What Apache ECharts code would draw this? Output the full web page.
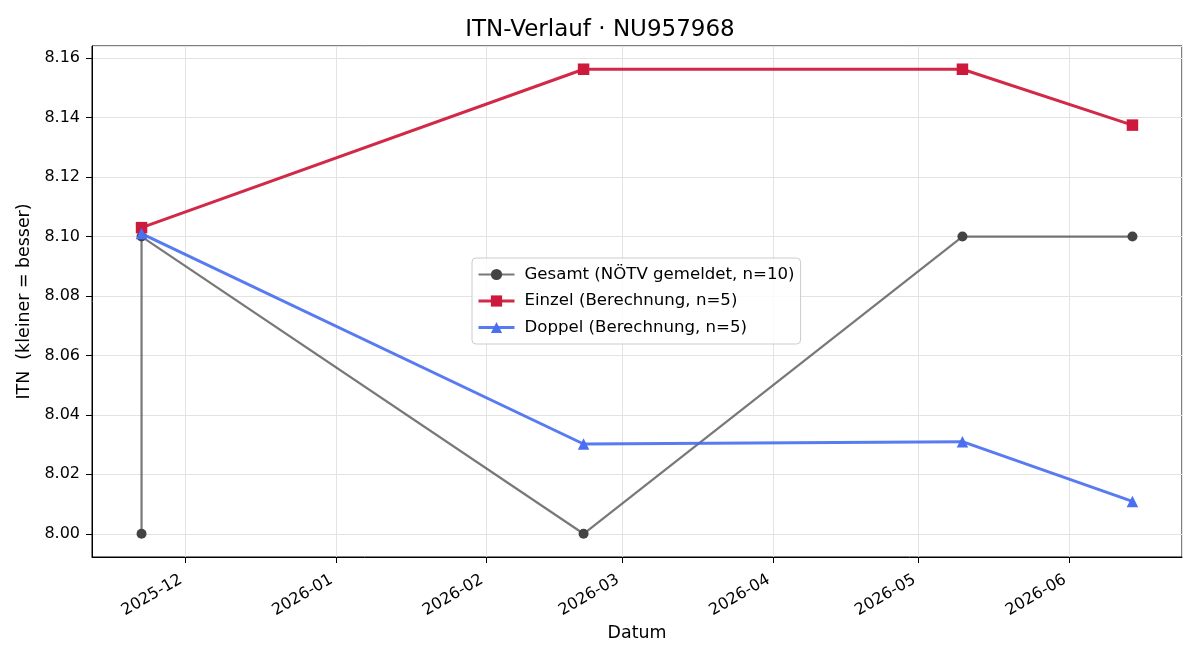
<!DOCTYPE html>
<html>
<head>
<meta charset="utf-8">
<script src="https://cdn.jsdelivr.net/npm/echarts@6/dist/echarts.min.js"></script>
<style>html,body{margin:0;padding:0;background:#fff}#c{width:1200px;height:660px}</style>
</head>
<body>
<div id="c"></div>
<script>
const seriesNames = ['Gesamt (NÖTV gemeldet, n=10)', 'Einzel (Berechnung, n=5)', 'Doppel (Berechnung, n=5)'];
const gesamtDates = ['2025-11-22', '2025-11-22', '2026-02-21', '2026-05-10', '2026-06-14'];
const gesamtValues = [8.00, 8.10, 8.00, 8.10, 8.10];
const einzelDates = ['2025-11-22', '2026-02-21', '2026-05-10', '2026-06-14'];
const einzelValues = [8.103, 8.1563, 8.1563, 8.1375];
const doppelDates = ['2025-11-22', '2026-02-21', '2026-05-10', '2026-06-14'];
const doppelValues = [8.101, 8.0302, 8.031, 8.0109];

const toPairs = (d, v) => d.map((x, i) => [x, v[i]]);
const allT = [].concat(gesamtDates, einzelDates, doppelDates).map(d => new Date(d + 'T00:00:00Z').getTime());
const allV = [].concat(gesamtValues, einzelValues, doppelValues);
const tMin = Math.min(...allT), tMax = Math.max(...allT);
const vMin = Math.min(...allV), vMax = Math.max(...allV);
const tPad = (tMax - tMin) * 0.05, vPad = (vMax - vMin) * 0.05;

const chart = echarts.init(document.getElementById('c'));
const font = 'DejaVu Sans';
chart.setOption({
  animation: false,
  textStyle: { fontFamily: font },
  title: {
    text: 'ITN-Verlauf · NU957968', left: 'center', top: 14,
    textStyle: { fontFamily: font, fontSize: 23, fontWeight: 'normal', color: '#000' }
  },
  grid: {
    left: 92, right: 18, top: 46, bottom: 103, show: true,
    borderColor: '#000', borderWidth: 1, backgroundColor: 'transparent'
  },
  legend: {
    data: [
      { name: seriesNames[0], lineStyle: { width: 2.2 } },
      { name: seriesNames[1], lineStyle: { width: 3 } },
      { name: seriesNames[2], lineStyle: { width: 3 } }
    ],
    orient: 'vertical', left: 472, top: 258,
    backgroundColor: 'rgba(255,255,255,0.8)', borderColor: '#cccccc', borderWidth: 1, borderRadius: 4,
    padding: [8, 6, 8, 5], itemWidth: 36, itemHeight: 14, itemGap: 9.5,
    textStyle: { fontFamily: font, fontSize: 16.6, color: '#000', padding: [0, 0, 0, 5] }
  },
  xAxis: {
    type: 'time', min: tMin - tPad, max: tMax + tPad, splitNumber: 7,
    name: 'Datum', nameLocation: 'middle', nameGap: 67,
    nameTextStyle: { fontFamily: font, fontSize: 17.4, color: '#000' },
    axisLine: { show: true, lineStyle: { color: '#000', width: 1 } },
    axisTick: { show: true, length: 6, inside: false, lineStyle: { color: '#000' } },
    axisLabel: {
      rotate: 30, fontFamily: font, fontSize: 16, color: '#000', margin: 19,
      padding: [0, 5, 0, 0],
      showMinLabel: false, showMaxLabel: false,
      formatter: v => { const d = new Date(v); return d.getUTCFullYear() + '-' + String(d.getUTCMonth() + 1).padStart(2, '0'); }
    },
    splitLine: { show: true, lineStyle: { color: '#e3e3e3', width: 1 } }
  },
  yAxis: {
    type: 'value', min: vMin - vPad, max: vMax + vPad, scale: true,
    splitNumber: 8, minInterval: 0.02, maxInterval: 0.02,
    name: 'ITN  (kleiner = besser)', nameLocation: 'middle', nameGap: 58,
    nameTextStyle: { fontFamily: font, fontSize: 17.4, color: '#000' },
    axisLine: { show: true, lineStyle: { color: '#000', width: 1 } },
    axisTick: { show: true, length: 6, lineStyle: { color: '#000' } },
    axisLabel: {
      fontFamily: font, fontSize: 16, color: '#000', margin: 12,
      showMinLabel: false, showMaxLabel: false,
      formatter: v => v.toFixed(2)
    },
    splitLine: { show: true, lineStyle: { color: '#e3e3e3', width: 1 } }
  },
  series: [
    {
      name: seriesNames[0], type: 'line', data: toPairs(gesamtDates, gesamtValues),
      symbol: 'circle', symbolSize: 10, showAllSymbol: true,
      lineStyle: { color: 'rgba(68,68,68,0.72)', width: 2.2 },
      itemStyle: { color: '#444444', borderWidth: 0 }, z: 2
    },
    {
      name: seriesNames[1], type: 'line', data: toPairs(einzelDates, einzelValues),
      symbol: 'rect', symbolSize: 11.5, showAllSymbol: true,
      lineStyle: { color: 'rgba(205,23,55,0.92)', width: 3 },
      itemStyle: { color: '#cd1a3c', borderWidth: 0 }, z: 3
    },
    {
      name: seriesNames[2], type: 'line', data: toPairs(doppelDates, doppelValues),
      symbol: 'triangle', symbolSize: 11.5, showAllSymbol: true,
      lineStyle: { color: 'rgba(65,105,240,0.88)', width: 3 },
      itemStyle: { color: '#4a6ff0', borderWidth: 0 }, z: 4
    }
  ]
});
</script>
</body>
</html>
